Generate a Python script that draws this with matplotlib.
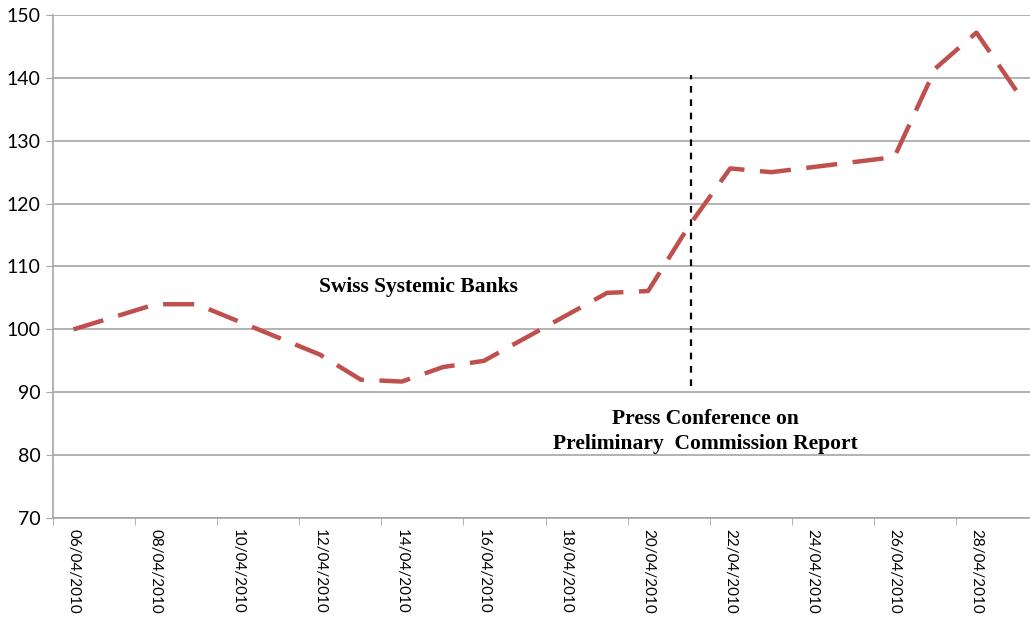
import pandas as pd
import matplotlib
matplotlib.use("Agg")
import matplotlib.pyplot as plt

# trading days and index level (06/04/2010 = 100)
dates = ["06/04/2010", "07/04/2010", "08/04/2010", "09/04/2010",
         "12/04/2010", "13/04/2010", "14/04/2010", "15/04/2010", "16/04/2010",
         "19/04/2010", "20/04/2010", "21/04/2010", "22/04/2010", "23/04/2010",
         "26/04/2010", "27/04/2010", "28/04/2010", "29/04/2010"]
index_values = [100, 102, 104, 104,
                96, 92, 91.7, 94, 95,
                105.8, 106.1, 116.5, 125.6, 125.0,
                127.4, 141.5, 147.2, 137.7]

tick_labels = ["06/04/2010", "08/04/2010", "10/04/2010", "12/04/2010",
               "14/04/2010", "16/04/2010", "18/04/2010", "20/04/2010",
               "22/04/2010", "24/04/2010", "26/04/2010", "28/04/2010"]

event_date = "21/04/2010"
event_range = [91, 140.5]

start = pd.to_datetime(dates[0], dayfirst=True)
x = [(pd.to_datetime(d, dayfirst=True) - start).days for d in dates]
tick_x = [(pd.to_datetime(d, dayfirst=True) - start).days for d in tick_labels]
event_x = (pd.to_datetime(event_date, dayfirst=True) - start).days + 0.05

fig = plt.figure(figsize=(10.3, 6.18), dpi=100)
ax = fig.add_axes([53 / 1030, 100 / 618, 985 / 1030, 503 / 618])

ax.plot(x, index_values, color="#C0504D", lw=3.2, dashes=(7, 3.5), solid_capstyle="round", zorder=3)
ax.plot([event_x, event_x], event_range, color="black", lw=1.6, dashes=(3, 3), zorder=3)

ax.set_xlim(-0.5, 23.5)
ax.set_ylim(70, 150)
ax.set_yticks(range(70, 151, 10))
ax.grid(axis="y", color="#A6A6A6", lw=1.2)
ax.set_axisbelow(True)

ax.set_xticks(tick_x)
ax.set_xticklabels(tick_labels, rotation=270, family="Lato", fontsize=11)
ax.set_xticks([t - 0.5 for t in tick_x], minor=True)
ax.tick_params(axis="x", which="major", length=0, pad=8)
ax.tick_params(axis="x", which="minor", length=5, color="#A6A6A6")
ax.tick_params(axis="y", length=5, color="#A6A6A6", labelsize=14, pad=4)
for lab in ax.get_yticklabels():
    lab.set_family("Lato")

for side in ["top", "right"]:
    ax.spines[side].set_visible(False)
for side in ["left", "bottom"]:
    ax.spines[side].set_color("#A6A6A6")
    ax.spines[side].set_linewidth(1.2)

ax.text(8.4, 106.7, "Swiss Systemic Banks", family="Liberation Serif", fontweight="bold",
        fontsize=15.5, ha="center", va="center")
ax.text(15.4, 83.8, "Press Conference on\nPreliminary  Commission Report", family="Liberation Serif",
        fontweight="bold", fontsize=15.5, ha="center", va="center", linespacing=1.35)

fig.savefig("out.png", dpi=100)
